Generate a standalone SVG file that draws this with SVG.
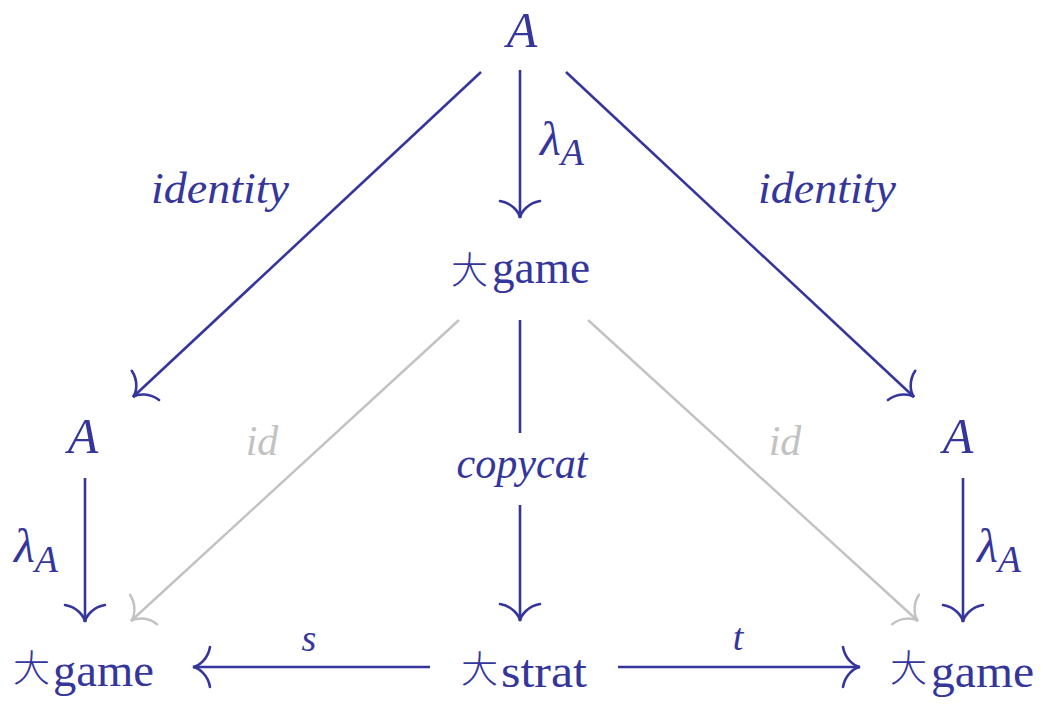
<svg xmlns="http://www.w3.org/2000/svg" width="1043" height="704" viewBox="0 0 1043 704">
<style>
.t{font-family:"Liberation Serif","DejaVu Serif",serif;fill:#35369b}
.i{font-style:italic}
.g{fill:#c2c2c2}
.sym{font-family:"Noto Sans CJK JP","Noto Sans CJK SC",sans-serif;fill:#35369b;font-weight:300}
.ln{stroke:#35369b;stroke-width:2.6;fill:none}
.gl{stroke:#c2c2c2;stroke-width:2.4;fill:none}
</style>
<defs>
<marker id="ab" markerUnits="userSpaceOnUse" orient="auto" refX="0" refY="0" markerWidth="50" markerHeight="50" viewBox="-25 -25 50 50" overflow="visible">
<path d="M -17,-20 C -15,-8 -6,-1 0,0 C -6,1 -15,8 -17,20" fill="none" stroke="#35369b" stroke-width="2.6" stroke-linecap="round"/>
</marker>
<marker id="ag" markerUnits="userSpaceOnUse" orient="auto" refX="0" refY="0" markerWidth="50" markerHeight="50" viewBox="-25 -25 50 50" overflow="visible">
<path d="M -17,-20 C -15,-8 -6,-1 0,0 C -6,1 -15,8 -17,20" fill="none" stroke="#c2c2c2" stroke-width="2.4" stroke-linecap="round"/>
</marker>
</defs>
<g id="connectors">
<line class="ln" x1="520" y1="70" x2="520" y2="218" marker-end="url(#ab)"/>
<line class="ln" x1="481" y1="72" x2="133" y2="397" marker-end="url(#ab)"/>
<line class="ln" x1="566" y1="72" x2="914" y2="397" marker-end="url(#ab)"/>
<line class="gl" x1="459" y1="320" x2="131" y2="621" marker-end="url(#ag)"/>
<line class="gl" x1="588" y1="320" x2="918" y2="621" marker-end="url(#ag)"/>
<line class="ln" x1="520" y1="320" x2="520" y2="433"/>
<line class="ln" x1="520" y1="505" x2="520" y2="621" marker-end="url(#ab)"/>
<line class="ln" x1="85" y1="478" x2="85" y2="622" marker-end="url(#ab)"/>
<line class="ln" x1="963" y1="478" x2="963" y2="622" marker-end="url(#ab)"/>
<line class="ln" x1="430" y1="667" x2="193" y2="667" marker-end="url(#ab)"/>
<line class="ln" x1="618" y1="667" x2="860" y2="667" marker-end="url(#ab)"/>
<text class="t i" x="309" y="651" font-size="38" text-anchor="middle">s</text>
<text class="t i" x="738" y="650" font-size="38" text-anchor="middle">t</text>
<text class="t i" x="220" y="203" font-size="44" textLength="138" lengthAdjust="spacingAndGlyphs" text-anchor="middle">identity</text>
<text class="t i" x="827" y="203" font-size="44" textLength="138" lengthAdjust="spacingAndGlyphs" text-anchor="middle">identity</text>
<text class="t i g" x="262" y="455" font-size="42" text-anchor="middle">id</text>
<text class="t i g" x="785" y="455" font-size="42" text-anchor="middle">id</text>
<text class="t i" x="522" y="478" font-size="44" textLength="131" lengthAdjust="spacingAndGlyphs" text-anchor="middle">copycat</text>
<text class="t i" x="540" y="155" font-size="48">λ<tspan font-size="38" dy="10">A</tspan></text>
<text class="t i" x="14" y="562" font-size="48">λ<tspan font-size="38" dy="10">A</tspan></text>
<text class="t i" x="977" y="562" font-size="48">λ<tspan font-size="38" dy="10">A</tspan></text>
</g>
<g id="nodeTopA"><text class="t i" x="522" y="47" font-size="50" text-anchor="middle">A</text></g>
<g id="nodeLeftA"><text class="t i" x="83" y="453" font-size="50" text-anchor="middle">A</text></g>
<g id="nodeRightA"><text class="t i" x="958" y="453" font-size="50" text-anchor="middle">A</text></g>
<g id="nodeGameTop"><text class="sym" x="451" y="284" font-size="37">大</text><text class="t" x="492" y="283" font-size="46" textLength="98" lengthAdjust="spacingAndGlyphs">game</text></g>
<g id="nodeGameLeft"><text class="sym" x="13" y="682" font-size="37">大</text><text class="t" x="53" y="686" font-size="46" textLength="101" lengthAdjust="spacingAndGlyphs">game</text></g>
<g id="nodeStrat"><text class="sym" x="461" y="683" font-size="37">大</text><text class="t" x="501" y="687" font-size="46" textLength="86" lengthAdjust="spacingAndGlyphs">strat</text></g>
<g id="nodeGameRight"><text class="sym" x="890" y="682" font-size="37">大</text><text class="t" x="931" y="687" font-size="46" textLength="103" lengthAdjust="spacingAndGlyphs">game</text></g>
</svg>
